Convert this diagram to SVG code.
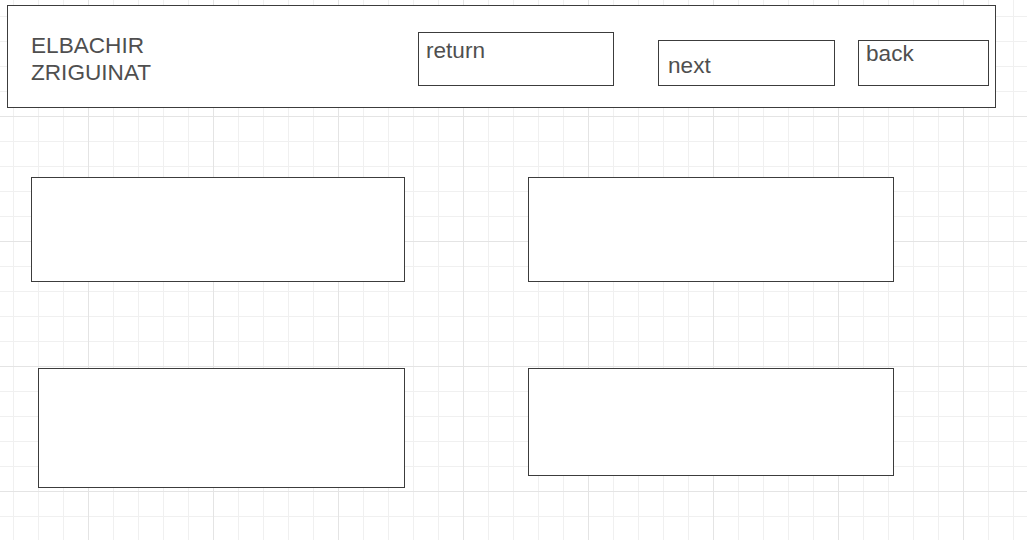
<svg xmlns="http://www.w3.org/2000/svg" width="1027" height="540" viewBox="0 0 1027 540">
<style>
.box{fill:#ffffff;stroke:#3c3c3c;stroke-width:1}
.t{font-family:"Liberation Sans",Arial,sans-serif;font-size:22.6px;fill:#4f4f4f}
</style>
<defs>
<pattern id="grid" patternUnits="userSpaceOnUse" x="-37" y="-9" width="125" height="125">
<rect x="25" y="0" width="1" height="125" fill="#f0f0f0"/>
<rect x="50" y="0" width="1" height="125" fill="#f0f0f0"/>
<rect x="75" y="0" width="1" height="125" fill="#f0f0f0"/>
<rect x="100" y="0" width="1" height="125" fill="#f0f0f0"/>
<rect x="0" y="25" width="125" height="1" fill="#f0f0f0"/>
<rect x="0" y="50" width="125" height="1" fill="#f0f0f0"/>
<rect x="0" y="75" width="125" height="1" fill="#f0f0f0"/>
<rect x="0" y="100" width="125" height="1" fill="#f0f0f0"/>
<rect x="0" y="0" width="1" height="125" fill="#e4e4e4"/>
<rect x="0" y="0" width="125" height="1" fill="#e4e4e4"/>
</pattern>
</defs>
<rect width="1027" height="540" fill="#ffffff"/>
<rect width="1027" height="540" fill="url(#grid)"/>
<g id="header">
<rect class="box" x="7.5" y="5.5" width="988" height="102"/>
<text class="t" x="31" y="53">ELBACHIR</text>
<text class="t" x="31" y="80">ZRIGUINAT</text>
</g>
<g id="return">
<rect class="box" x="418.5" y="32.5" width="195" height="53"/>
<text class="t" x="426" y="58">return</text>
</g>
<g id="next">
<rect class="box" x="658.5" y="40.5" width="176" height="45"/>
<text class="t" x="668" y="73">next</text>
</g>
<g id="back">
<rect class="box" x="858.5" y="40.5" width="130" height="45"/>
<text class="t" x="866" y="61">back</text>
</g>
<g id="panel1"><rect class="box" x="31.5" y="177.5" width="373" height="104"/></g>
<g id="panel2"><rect class="box" x="528.5" y="177.5" width="365" height="104"/></g>
<g id="panel3"><rect class="box" x="38.5" y="368.5" width="366" height="119"/></g>
<g id="panel4"><rect class="box" x="528.5" y="368.5" width="365" height="107"/></g>
<g id="connectors"></g>
</svg>
